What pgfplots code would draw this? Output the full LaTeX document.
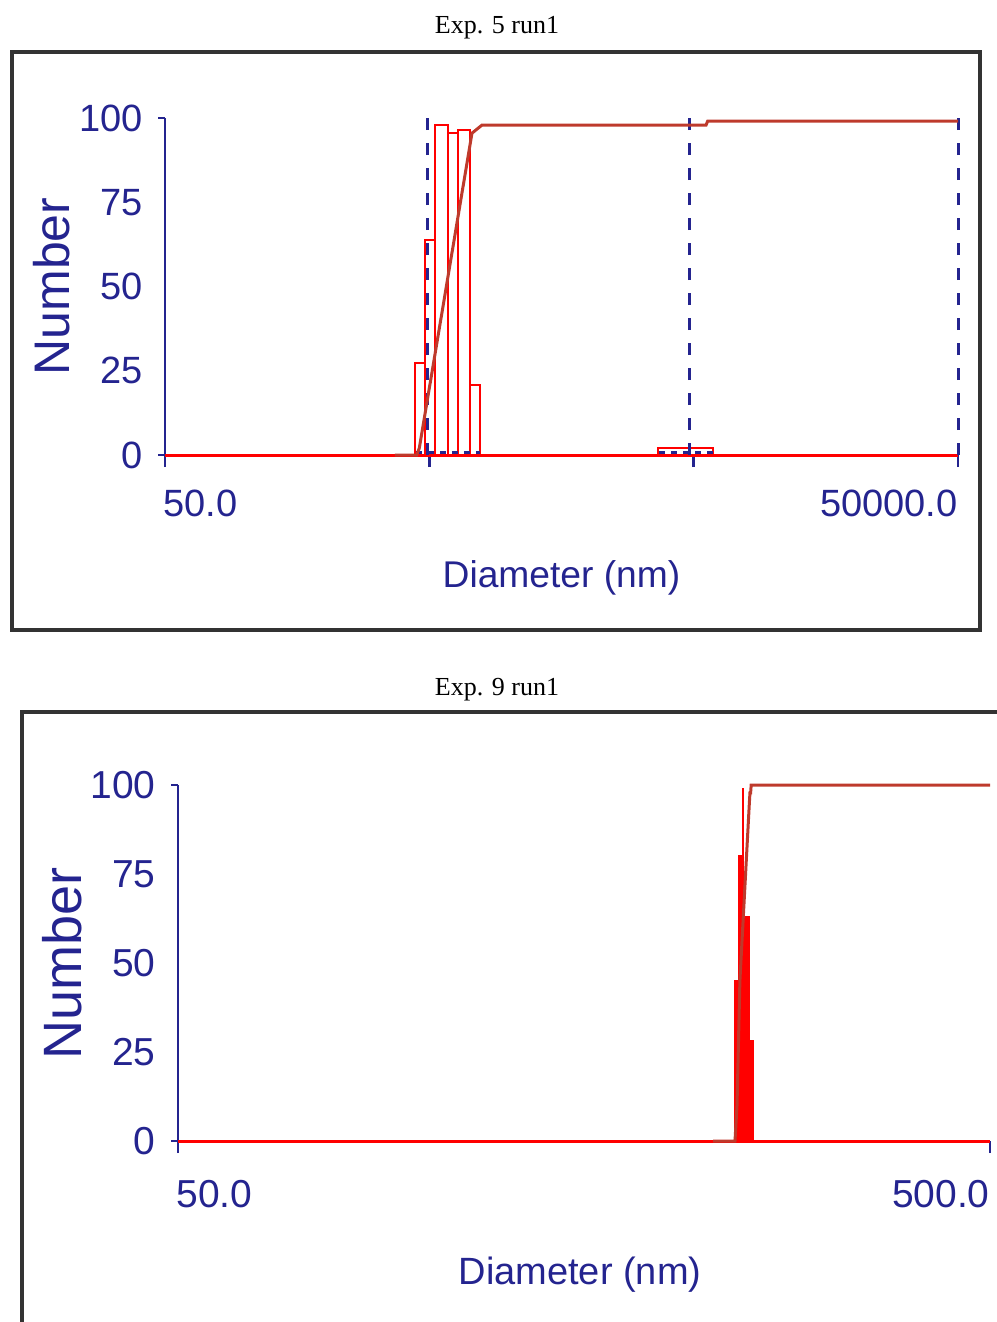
\documentclass[border=0pt]{standalone}
\usepackage{fontspec}
\setmainfont{Liberation Serif}
\newfontfamily\lsans{Liberation Sans}
\usepackage{pgfplots}
\pgfplotsset{compat=1.18}
\definecolor{axblue}{HTML}{24248F}
\definecolor{cumred}{HTML}{BE3A2C}
\definecolor{framegray}{HTML}{333333}

\begin{document}
\begin{tikzpicture}
\useasboundingbox (0,0) rectangle (498pt,-661pt);

% ---------- Exp. 5 run1 ----------
\node[font=\fontsize{13}{15}\selectfont] at (248.5pt,-14pt) {Exp. 5 run1};
\draw[framegray, line width=1.6pt] (6pt,-26pt) rectangle (490pt,-315pt);

\begin{axis}[
    anchor=south west, at={(82.5pt,-227.5pt)},
    scale only axis, width=396.5pt, height=168.5pt,
    xmode=log, xmin=50, xmax=50000, ymin=0, ymax=100,
    clip=false,
    axis x line*=bottom, axis y line*=left,
    axis line style={axblue, line width=1.3pt},
    xtick={50,500,5000,50000}, xticklabels={,,,}, xminorticks=false,
    ytick={0,25,50,75,100}, yticklabels={0,25,50,75,100},
    ytick style={draw=none},
    xtick style={axblue, line width=1.3pt},
    tick align=outside, major tick length=6pt,
    /pgf/number format/assume math mode=true,
    tick label style={font=\lsans\fontsize{19}{21}\selectfont, text=axblue},
    yticklabel style={anchor=east, inner sep=0pt, xshift=-5pt},
  ]
  % number distribution (histogram)
  \addplot[ybar interval, draw=red, line width=1pt] coordinates {(441.3,27.3)(481.5,63.8)(525.3,98)(590,95.5)(643.6,96.5)(712.6,20.8)(777.4,20.8)};
  \addplot[ybar interval, draw=red, line width=1pt] coordinates {(3666,2)(5919,2)};
  \addplot[red, line width=1.5pt] coordinates {(50,0)(50000,0)};
  % dashed markers
  \addplot[axblue, line width=1.5pt, dash pattern=on 6pt off 6.5pt] coordinates {(490,0)(490,100)};
  \addplot[axblue, line width=1.5pt, dash pattern=on 6pt off 6.5pt] coordinates {(4842,0)(4842,100)};
  \addplot[axblue, line width=1.5pt, dash pattern=on 6pt off 6.5pt] coordinates {(50000,0)(50000,100)};
  \addplot[axblue, line width=1.3pt, dash pattern=on 3pt off 3pt] coordinates {(445,0.8)(775,0.8)};
  \addplot[axblue, line width=1.3pt, dash pattern=on 3pt off 3pt] coordinates {(3700,0.8)(5900,0.8)};
  % cumulative
  \addplot[cumred, line width=1.5pt] coordinates {(370,0)(448,0)(458,2)(725,95.5)(791,97.9)(5570,97.9)(5650,99.1)(50000,99.1)};
  \draw[axblue, line width=1.3pt] (axis cs:50,100) -- ([xshift=-3.5pt]axis cs:50,100);
  \draw[axblue, line width=1.3pt] (axis cs:50,0) -- ([xshift=-3.5pt]axis cs:50,0);
  \node[anchor=north west, inner sep=0pt, font=\lsans\fontsize{19}{21}\selectfont, text=axblue]
    at (axis cs:50,0) [yshift=-17.5pt, xshift=-1pt] {50.0};
  \node[anchor=north east, inner sep=0pt, font=\lsans\fontsize{19}{21}\selectfont, text=axblue]
    at (axis cs:50000,0) [yshift=-17.5pt] {50000.0};
  \node[font=\lsans\fontsize{18.6}{21}\selectfont, text=axblue]
    at (rel axis cs:0.5,0) [yshift=-61.5pt] {Diameter (nm)};
  \node[font=\lsans\fontsize{25}{28}\selectfont, text=axblue, xshift=-56.5pt, rotate=90]
    at (rel axis cs:0,0.5) {Number};
\end{axis}

% ---------- Exp. 9 run1 ----------
\node[font=\fontsize{13}{15}\selectfont] at (248.5pt,-345pt) {Exp. 9 run1};
\draw[framegray, line width=1.6pt] (11pt,-662pt) -- (11pt,-356pt) -- (500pt,-356pt);

\begin{axis}[
    anchor=south west, at={(89pt,-570.5pt)},
    scale only axis, width=406pt, height=178pt,
    xmode=log, xmin=50, xmax=500, ymin=0, ymax=100,
    clip=false,
    axis x line*=bottom, axis y line*=left,
    axis line style={axblue, line width=1.3pt},
    xtick={50,500}, xticklabels={,}, xminorticks=false,
    ytick={0,25,50,75,100}, yticklabels={0,25,50,75,100},
    ytick style={draw=none},
    xtick style={axblue, line width=1.3pt},
    tick align=outside, major tick length=6pt,
    /pgf/number format/assume math mode=true,
    tick label style={font=\lsans\fontsize{19.5}{21}\selectfont, text=axblue},
    yticklabel style={anchor=east, inner sep=0pt, xshift=-5pt},
  ]
  \addplot[ybar interval, draw=red, fill=red, line width=1pt] coordinates {(242.6,45)(245.6,80)(248.0,99)(248.4,63)(252.7,28)(255.1,28)};
  \addplot[red, line width=1.5pt] coordinates {(50,0)(500,0)};
  \addplot[cumred, line width=1.5pt] coordinates {(228,0)(242.6,0)(244,10)(246,45)(250.8,81)(252.7,95)(253.1,97.8)(253.6,97.8)(254,100)(500,100)};
  \draw[axblue, line width=1.3pt] (axis cs:50,100) -- ([xshift=-3.5pt]axis cs:50,100);
  \draw[axblue, line width=1.3pt] (axis cs:50,0) -- ([xshift=-3.5pt]axis cs:50,0);
  \node[anchor=north west, inner sep=0pt, font=\lsans\fontsize{19.5}{21}\selectfont, text=axblue]
    at (axis cs:50,0) [yshift=-19.5pt, xshift=-1pt] {50.0};
  \node[anchor=north east, inner sep=0pt, font=\lsans\fontsize{19.5}{21}\selectfont, text=axblue]
    at (axis cs:500,0) [yshift=-19.5pt] {500.0};
  \node[font=\lsans\fontsize{19}{21}\selectfont, text=axblue]
    at (rel axis cs:0.5,0) [yshift=-67pt, xshift=-2pt] {Diameter (nm)};
  \node[font=\lsans\fontsize{27}{30}\selectfont, text=axblue, xshift=-58pt, rotate=90]
    at (rel axis cs:0,0.5) {Number};
\end{axis}
\end{tikzpicture}
\end{document}
